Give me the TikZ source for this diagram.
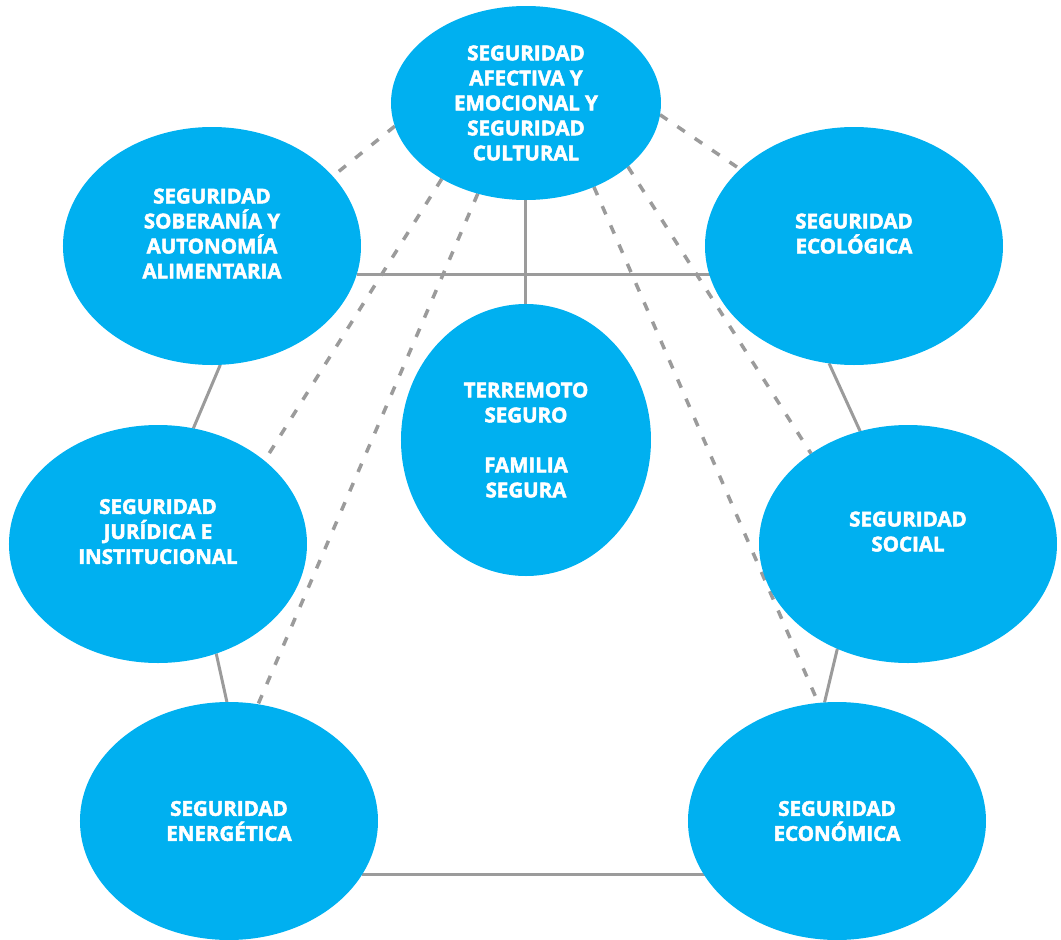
\documentclass[tikz,border=0pt]{standalone}
\usepackage{fontspec}
\setmainfont{Open Sans}[BoldFeatures={FakeBold=2.4}]
\usetikzlibrary{positioning,shapes.geometric,backgrounds}
\definecolor{blobblue}{HTML}{00B0F0}
\definecolor{linkgray}{HTML}{9B9B9B}

\begin{document}
\begin{tikzpicture}[node distance=300pt,on grid,
    sec/.style={ellipse,fill=blobblue,text=white,align=center,
      font=\bfseries\fontsize{20.5}{25}\selectfont,
      inner sep=0pt,outer sep=0pt,minimum width=298pt,minimum height=238pt},
    link/.style={draw=linkgray,line width=3pt},
    dlink/.style={link,line width=3.5pt,dash pattern=on 9pt off 12pt}]

   \useasboundingbox (-526pt,103pt) rectangle (535pt,-837pt);

   \node[sec,minimum width=270pt,minimum height=194pt] (afect) {SEGURIDAD\\AFECTIVA Y\\EMOCIONAL Y\\SEGURIDAD\\CULTURAL};
   \node[sec,minimum width=250pt,minimum height=272pt] (terre) [below=337pt of afect] {TERREMOTO\\SEGURO\\~\\FAMILIA\\SEGURA};
   \node[sec] (alim) [below left=143pt and 314pt of afect] {SEGURIDAD\\SOBERANÍA Y\\AUTONOMÍA\\ALIMENTARIA\\~};
   \node[sec] (eco)  [below right=143pt and 328pt of afect] {SEGURIDAD\\ECOLÓGICA\\~};
   \node[sec] (jur)  [below left=298pt and 54pt of alim] {SEGURIDAD\\JURÍDICA E\\INSTITUCIONAL\\~};
   \node[sec] (soc)  [below right=298pt and 54pt of eco] {SEGURIDAD\\SOCIAL\\~};
   \node[sec] (ener) [below right=277pt and 71pt of jur] {SEGURIDAD\\ENERGÉTICA};
   \node[sec] (econ) [below left=277pt and 71pt of soc] {SEGURIDAD\\ECONÓMICA};

   \begin{scope}[on background layer]
    \path[link]
    (alim.-11.3) edge (alim.-11.3 -| eco)
    (afect.south) edge (terre.north)
    (alim.-86.2) edge (jur.73.8)
    (jur.-62) edge (ener.91.9)
    (ener.-22.2) edge (ener.-22.2 -| econ)
    (eco.-102.5) edge (soc.113.2)
    (soc.-124.3) edge (econ.96.3);

    \path[dlink]
    (afect.-170.2) edge (alim.30.7)
    (afect.-5.4) edge (eco.146.8)
    (afect.-138.7) edge (jur.38.9)
    (afect.-118) edge (ener.76.8)
    (afect.-32.9) edge (soc.137.9)
    (afect.-51.8) edge (econ.99.6);
   \end{scope}
\end{tikzpicture}
\end{document}
